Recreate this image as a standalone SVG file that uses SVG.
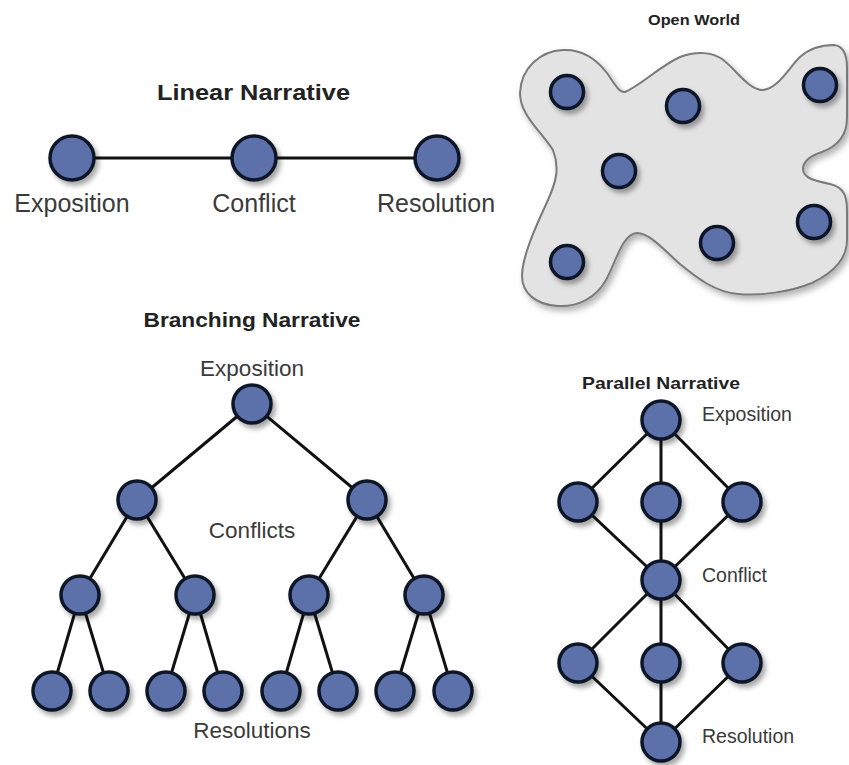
<svg xmlns="http://www.w3.org/2000/svg" width="849" height="765" viewBox="0 0 849 765">
<defs>
<filter id="sh" x="-50%" y="-50%" width="200%" height="200%">
<feDropShadow dx="3" dy="4" stdDeviation="2.5" flood-color="#000" flood-opacity="0.35"/>
</filter>
<filter id="shb" x="-10%" y="-10%" width="120%" height="120%">
<feDropShadow dx="3" dy="4" stdDeviation="3" flood-color="#000" flood-opacity="0.3"/>
</filter>
</defs>
<style>
.n{fill:#5b6fa9;stroke:#0f1626;stroke-width:3.5;filter:url(#sh)}
.e{stroke:#111;stroke-width:3;fill:none}
.t{font-family:"Liberation Sans",Arial,sans-serif;font-weight:bold;fill:#222}
.l{font-family:"Liberation Sans",Arial,sans-serif;fill:#3a3a3a}
</style>
<rect width="849" height="765" fill="#fff"/>

<!-- Linear -->
<text class="t" x="253.5" y="100" font-size="22" text-anchor="middle" textLength="193" lengthAdjust="spacingAndGlyphs">Linear Narrative</text>
<g id="linear-edges">
<line class="e" x1="72" y1="158" x2="437" y2="158"/>
</g>
<g id="lin-exposition"><circle class="n" cx="72" cy="158" r="22"/><text class="l" x="72" y="212" font-size="25" text-anchor="middle">Exposition</text></g>
<g id="lin-conflict"><circle class="n" cx="254" cy="158" r="22"/><text class="l" x="254" y="212" font-size="25" text-anchor="middle">Conflict</text></g>
<g id="lin-resolution"><circle class="n" cx="437" cy="158" r="22"/><text class="l" x="436" y="212" font-size="25" text-anchor="middle">Resolution</text></g>

<!-- Open World -->
<text class="t" x="694" y="25" font-size="14" text-anchor="middle" textLength="92" lengthAdjust="spacingAndGlyphs">Open World</text>
<g id="open-world">
<path filter="url(#shb)" fill="#e3e3e3" stroke="#7a7a7a" stroke-width="2" d="M 520,93 C 521,68 540,51 563,50 C 583,49 597,60 607,73 C 614,83 619,93 625,92 C 640,86 660,66 680,57 C 696,51 712,52 722,59 C 736,69 748,90 763,90 C 778,89 790,66 800,57 C 810,48 822,45 834,45 C 844,46 847,55 847,68 L 847,118 C 847,135 838,146 822,152 C 810,156 803,162 803,169 C 803,178 815,181 830,184 C 843,187 847,195 847,210 L 847,240 C 847,258 835,272 812,283 C 790,292 760,296 738,294 C 715,292 697,278 680,264 C 665,251 650,233 637,233 C 622,234 616,262 606,280 C 596,298 578,307 558,306 C 535,305 522,292 522,276 C 522,255 538,222 548,200 C 556,182 560,168 553,150 C 540,130 520,115 520,93 Z"/>
</g>
<g id="ow1"><circle class="n" cx="567" cy="92" r="16.5"/></g>
<g id="ow2"><circle class="n" cx="683" cy="106" r="16.5"/></g>
<g id="ow3"><circle class="n" cx="820" cy="85" r="16.5"/></g>
<g id="ow4"><circle class="n" cx="619" cy="171" r="16.5"/></g>
<g id="ow5"><circle class="n" cx="567" cy="262" r="16.5"/></g>
<g id="ow6"><circle class="n" cx="717" cy="243" r="16.5"/></g>
<g id="ow7"><circle class="n" cx="814" cy="222" r="16.5"/></g>

<!-- Branching -->
<text class="t" x="252" y="327" font-size="21" text-anchor="middle" textLength="217" lengthAdjust="spacingAndGlyphs">Branching Narrative</text>
<g id="branching-edges">
<line class="e" x1="252" y1="404" x2="137" y2="500"/>
<line class="e" x1="252" y1="404" x2="367" y2="500"/>
<line class="e" x1="137" y1="500" x2="80" y2="595"/>
<line class="e" x1="137" y1="500" x2="195" y2="595"/>
<line class="e" x1="367" y1="500" x2="309" y2="595"/>
<line class="e" x1="367" y1="500" x2="424" y2="595"/>
<line class="e" x1="80" y1="595" x2="52" y2="691"/>
<line class="e" x1="80" y1="595" x2="109" y2="691"/>
<line class="e" x1="195" y1="595" x2="166" y2="691"/>
<line class="e" x1="195" y1="595" x2="223" y2="691"/>
<line class="e" x1="309" y1="595" x2="281" y2="691"/>
<line class="e" x1="309" y1="595" x2="338" y2="691"/>
<line class="e" x1="424" y1="595" x2="395" y2="691"/>
<line class="e" x1="424" y1="595" x2="453" y2="691"/>
</g>
<text class="l" x="252" y="376" font-size="22.5" text-anchor="middle">Exposition</text>
<text class="l" x="252" y="538" font-size="22.5" text-anchor="middle">Conflicts</text>
<text class="l" x="252" y="738" font-size="22.5" text-anchor="middle">Resolutions</text>
<g id="br-root"><circle class="n" cx="252" cy="404" r="19"/></g>
<g id="br-c1"><circle class="n" cx="137" cy="500" r="19"/></g>
<g id="br-c2"><circle class="n" cx="367" cy="500" r="19"/></g>
<g id="br-d1"><circle class="n" cx="80" cy="595" r="19"/></g>
<g id="br-d2"><circle class="n" cx="195" cy="595" r="19"/></g>
<g id="br-d3"><circle class="n" cx="309" cy="595" r="19"/></g>
<g id="br-d4"><circle class="n" cx="424" cy="595" r="19"/></g>
<g id="br-r1"><circle class="n" cx="52" cy="691" r="19"/></g>
<g id="br-r2"><circle class="n" cx="109" cy="691" r="19"/></g>
<g id="br-r3"><circle class="n" cx="166" cy="691" r="19"/></g>
<g id="br-r4"><circle class="n" cx="223" cy="691" r="19"/></g>
<g id="br-r5"><circle class="n" cx="281" cy="691" r="19"/></g>
<g id="br-r6"><circle class="n" cx="338" cy="691" r="19"/></g>
<g id="br-r7"><circle class="n" cx="395" cy="691" r="19"/></g>
<g id="br-r8"><circle class="n" cx="453" cy="691" r="19"/></g>

<!-- Parallel -->
<text class="t" x="661" y="389" font-size="17" text-anchor="middle" textLength="158" lengthAdjust="spacingAndGlyphs">Parallel Narrative</text>
<g id="parallel-edges">
<line class="e" x1="661" y1="420" x2="578" y2="502"/>
<line class="e" x1="661" y1="420" x2="661" y2="580"/>
<line class="e" x1="661" y1="420" x2="742" y2="502"/>
<line class="e" x1="578" y1="502" x2="661" y2="580"/>
<line class="e" x1="742" y1="502" x2="661" y2="580"/>
<line class="e" x1="661" y1="580" x2="578" y2="663"/>
<line class="e" x1="661" y1="580" x2="661" y2="742"/>
<line class="e" x1="661" y1="580" x2="742" y2="663"/>
<line class="e" x1="578" y1="663" x2="661" y2="742"/>
<line class="e" x1="742" y1="663" x2="661" y2="742"/>
</g>
<g id="par-exposition"><circle class="n" cx="661" cy="420" r="19"/><text class="l" x="702" y="421" font-size="19.5">Exposition</text></g>
<g id="par-a1"><circle class="n" cx="578" cy="502" r="19"/></g>
<g id="par-a2"><circle class="n" cx="661" cy="502" r="19"/></g>
<g id="par-a3"><circle class="n" cx="742" cy="502" r="19"/></g>
<g id="par-conflict"><circle class="n" cx="661" cy="580" r="19"/><text class="l" x="702" y="582" font-size="19.5">Conflict</text></g>
<g id="par-b1"><circle class="n" cx="578" cy="663" r="19"/></g>
<g id="par-b2"><circle class="n" cx="661" cy="663" r="19"/></g>
<g id="par-b3"><circle class="n" cx="742" cy="663" r="19"/></g>
<g id="par-resolution"><circle class="n" cx="661" cy="742" r="19"/><text class="l" x="702" y="743" font-size="19.5">Resolution</text></g>
</svg>
